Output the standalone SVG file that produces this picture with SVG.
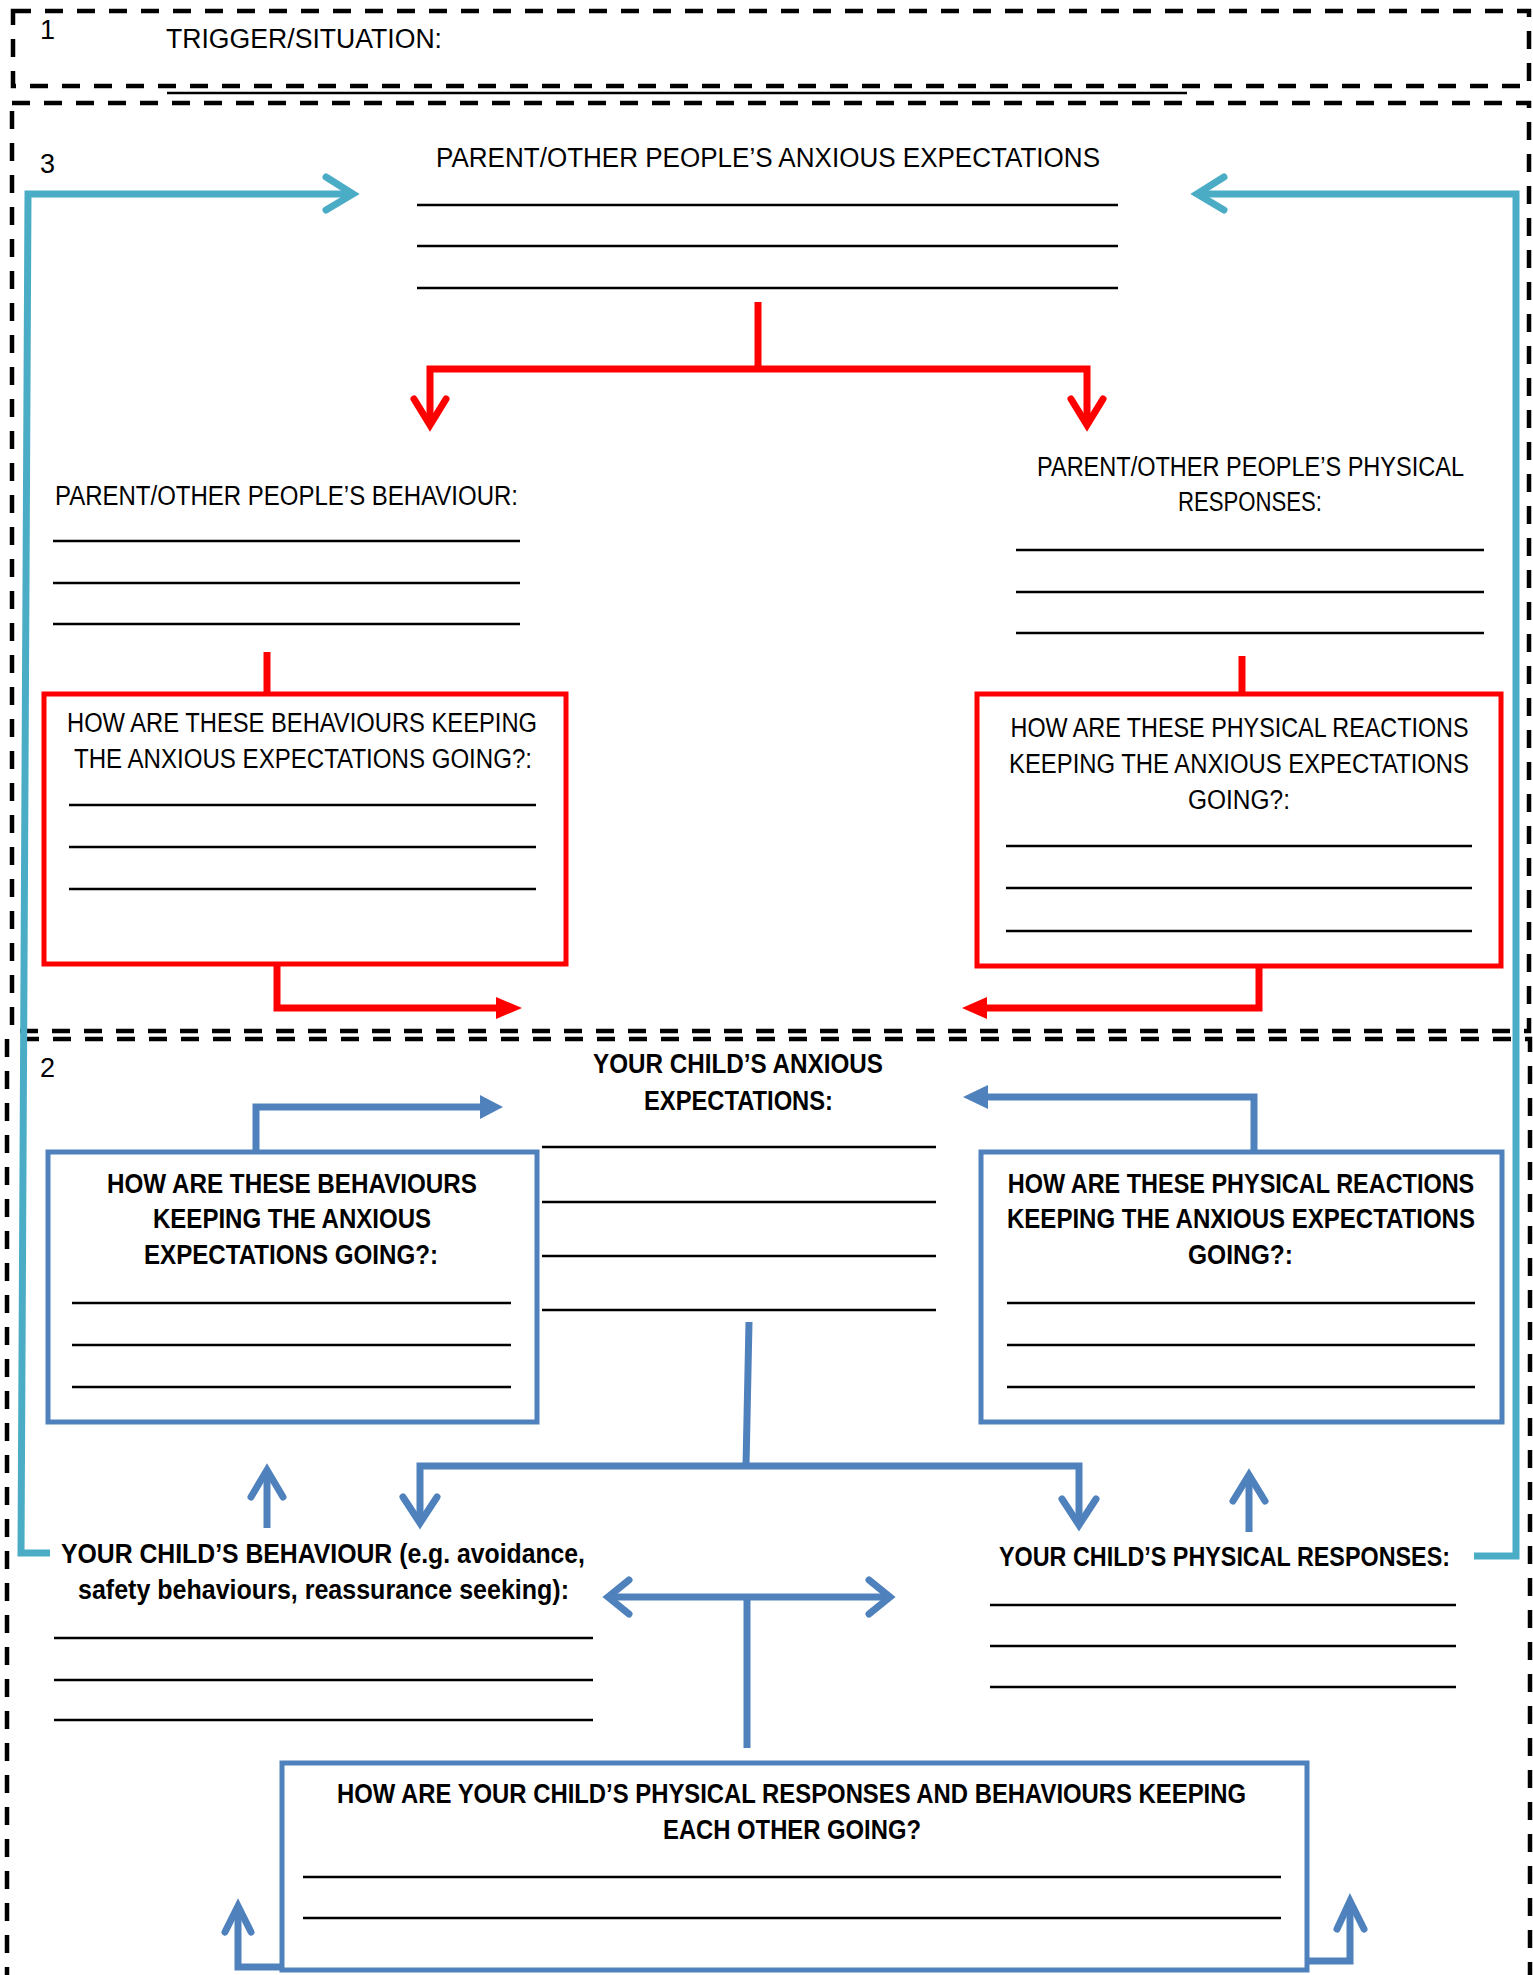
<svg xmlns="http://www.w3.org/2000/svg" width="1533" height="1975" viewBox="0 0 1533 1975">
<style>
.dash{fill:none;stroke:#000;stroke-width:4.5;stroke-dasharray:18 14}
.ul{stroke:#000;stroke-width:2.4;fill:none}
.t{font-family:"Liberation Sans",Arial,sans-serif;font-size:27px;fill:#000}
.m{text-anchor:middle}
.b{font-weight:bold}
.red{stroke:#FF0000;fill:none;stroke-width:7;stroke-linejoin:miter}
.redf{fill:#FF0000;stroke:none}
.blue{stroke:#4F81BD;fill:none;stroke-width:7;stroke-linejoin:miter}
.bluef{fill:#4F81BD;stroke:none}
.teal{stroke:#4BACC6;fill:none;stroke-width:7;stroke-linejoin:miter}
.chev{stroke-linecap:round;stroke-linejoin:miter}
.rbox{fill:none;stroke:#FF0000;stroke-width:5}
.bbox{fill:none;stroke:#4F81BD;stroke-width:5}
</style>
<rect width="1533" height="1975" fill="#fff"/>

<g id="section1">
<rect class="dash" x="13" y="11" width="1516" height="75"/>
<text class="t" x="40" y="39">1</text>
<text class="t" x="166" y="48" textLength="276" lengthAdjust="spacingAndGlyphs">TRIGGER/SITUATION:</text>
<line class="ul" x1="167" y1="93" x2="1187" y2="93"/>
</g>

<g id="section3">
<rect class="dash" x="12" y="103" width="1517" height="928"/>
<text class="t" x="40" y="173">3</text>
</g>

<g id="section2">
<path class="dash" d="M7 1985 V1039 H1530 V1985"/>
<text class="t" x="40" y="1077">2</text>
</g>

<g id="parent-expectations">
<text class="t m" x="768" y="167" textLength="664" lengthAdjust="spacingAndGlyphs">PARENT/OTHER PEOPLE’S ANXIOUS EXPECTATIONS</text>
<line class="ul" x1="417" y1="205" x2="1118" y2="205"/>
<line class="ul" x1="417" y1="246" x2="1118" y2="246"/>
<line class="ul" x1="417" y1="288" x2="1118" y2="288"/>
</g>

<g id="parent-behaviour">
<text class="t" x="55" y="505" textLength="463" lengthAdjust="spacingAndGlyphs">PARENT/OTHER PEOPLE’S BEHAVIOUR:</text>
<line class="ul" x1="53" y1="541" x2="520" y2="541"/>
<line class="ul" x1="53" y1="583" x2="520" y2="583"/>
<line class="ul" x1="53" y1="624" x2="520" y2="624"/>
</g>

<g id="parent-physical">
<text class="t m" x="1250.5" y="476" textLength="427" lengthAdjust="spacingAndGlyphs">PARENT/OTHER PEOPLE’S PHYSICAL</text>
<text class="t m" x="1250" y="511" textLength="144" lengthAdjust="spacingAndGlyphs">RESPONSES:</text>
<line class="ul" x1="1016" y1="550" x2="1484" y2="550"/>
<line class="ul" x1="1016" y1="592" x2="1484" y2="592"/>
<line class="ul" x1="1016" y1="633" x2="1484" y2="633"/>
</g>

<g id="parent-behaviour-box">
<rect class="rbox" x="44" y="694" width="522" height="270"/>
<text class="t m" x="302" y="732" textLength="470" lengthAdjust="spacingAndGlyphs">HOW ARE THESE BEHAVIOURS KEEPING</text>
<text class="t m" x="303" y="768" textLength="458" lengthAdjust="spacingAndGlyphs">THE ANXIOUS EXPECTATIONS GOING?:</text>
<line class="ul" x1="69" y1="805" x2="536" y2="805"/>
<line class="ul" x1="69" y1="847" x2="536" y2="847"/>
<line class="ul" x1="69" y1="889" x2="536" y2="889"/>
</g>

<g id="parent-physical-box">
<rect class="rbox" x="977" y="694" width="524" height="272"/>
<text class="t m" transform="translate(1239.5 737) scale(0.865 1)" x="0" y="0">HOW ARE THESE PHYSICAL REACTIONS</text>
<text class="t m" x="1239" y="773" textLength="460" lengthAdjust="spacingAndGlyphs">KEEPING THE ANXIOUS EXPECTATIONS</text>
<text class="t m" x="1239" y="809" textLength="102" lengthAdjust="spacingAndGlyphs">GOING?:</text>
<line class="ul" x1="1006" y1="846" x2="1472" y2="846"/>
<line class="ul" x1="1006" y1="888" x2="1472" y2="888"/>
<line class="ul" x1="1006" y1="931" x2="1472" y2="931"/>
</g>

<g id="child-expectations">
<text class="t b m" x="738" y="1073" textLength="290" lengthAdjust="spacingAndGlyphs">YOUR CHILD’S ANXIOUS</text>
<text class="t b m" x="738.5" y="1110" textLength="189" lengthAdjust="spacingAndGlyphs">EXPECTATIONS:</text>
<line class="ul" x1="542" y1="1147" x2="936" y2="1147"/>
<line class="ul" x1="542" y1="1202" x2="936" y2="1202"/>
<line class="ul" x1="542" y1="1256" x2="936" y2="1256"/>
<line class="ul" x1="542" y1="1310" x2="936" y2="1310"/>
</g>

<g id="child-behaviour-box">
<rect class="bbox" x="48" y="1152" width="489" height="270"/>
<text class="t b m" x="292" y="1193" textLength="370" lengthAdjust="spacingAndGlyphs">HOW ARE THESE BEHAVIOURS</text>
<text class="t b m" x="292" y="1228" textLength="278" lengthAdjust="spacingAndGlyphs">KEEPING THE ANXIOUS</text>
<text class="t b m" x="291" y="1264" textLength="294" lengthAdjust="spacingAndGlyphs">EXPECTATIONS GOING?:</text>
<line class="ul" x1="72" y1="1303" x2="511" y2="1303"/>
<line class="ul" x1="72" y1="1345" x2="511" y2="1345"/>
<line class="ul" x1="72" y1="1387" x2="511" y2="1387"/>
</g>

<g id="child-physical-box">
<rect class="bbox" x="981" y="1152" width="521" height="270"/>
<text class="t b m" transform="translate(1241 1193) scale(0.869 1)" x="0" y="0">HOW ARE THESE PHYSICAL REACTIONS</text>
<text class="t b m" x="1241" y="1228" textLength="468" lengthAdjust="spacingAndGlyphs">KEEPING THE ANXIOUS EXPECTATIONS</text>
<text class="t b m" x="1240.5" y="1264" textLength="105" lengthAdjust="spacingAndGlyphs">GOING?:</text>
<line class="ul" x1="1007" y1="1303" x2="1475" y2="1303"/>
<line class="ul" x1="1007" y1="1345" x2="1475" y2="1345"/>
<line class="ul" x1="1007" y1="1387" x2="1475" y2="1387"/>
</g>

<g id="child-behaviour">
<text class="t b m" x="323" y="1563" textLength="524" lengthAdjust="spacingAndGlyphs">YOUR CHILD’S BEHAVIOUR (e.g. avoidance,</text>
<text class="t b m" x="323.5" y="1599" textLength="491" lengthAdjust="spacingAndGlyphs">safety behaviours, reassurance seeking):</text>
<line class="ul" x1="54" y1="1638" x2="593" y2="1638"/>
<line class="ul" x1="54" y1="1680" x2="593" y2="1680"/>
<line class="ul" x1="54" y1="1720" x2="593" y2="1720"/>
</g>

<g id="child-physical">
<text class="t b m" x="1224.5" y="1566" textLength="451" lengthAdjust="spacingAndGlyphs">YOUR CHILD’S PHYSICAL RESPONSES:</text>
<line class="ul" x1="990" y1="1605" x2="1456" y2="1605"/>
<line class="ul" x1="990" y1="1646" x2="1456" y2="1646"/>
<line class="ul" x1="990" y1="1687" x2="1456" y2="1687"/>
</g>

<g id="child-both-box">
<rect class="bbox" x="282" y="1763" width="1025" height="207"/>
<text class="t b m" x="791.5" y="1803" textLength="909" lengthAdjust="spacingAndGlyphs">HOW ARE YOUR CHILD’S PHYSICAL RESPONSES AND BEHAVIOURS KEEPING</text>
<text class="t b m" x="792" y="1839" textLength="258" lengthAdjust="spacingAndGlyphs">EACH OTHER GOING?</text>
<line class="ul" x1="303" y1="1877" x2="1281" y2="1877"/>
<line class="ul" x1="303" y1="1918" x2="1281" y2="1918"/>
</g>

<g id="connectors">
<path class="teal" d="M50 1553 H21 L28 194 H352"/>
<polyline class="teal chev" points="326,177 353,194 326,210"/>
<path class="teal" d="M1474 1556 H1516 V194 H1198"/>
<polyline class="teal chev" points="1224,177 1197,194 1224,210"/>

<path class="red" d="M758 302 V369"/>
<path class="red" d="M430 425 V369 H1087 V425" stroke-width="7.5"/>
<polyline class="red chev" stroke-width="8" points="414,399 430,425 446,399"/>
<polyline class="red chev" stroke-width="8" points="1071,399 1087,425 1103,399"/>

<path class="red" d="M267 652 V694"/>
<path class="red" d="M1242 656 V694"/>

<path class="red" d="M277 964 V1008 H498"/>
<polygon class="redf" points="496,997 522,1008 496,1019"/>
<path class="red" d="M1259 966 V1008 H985"/>
<polygon class="redf" points="987,997 962,1008 987,1019"/>

<path class="blue" d="M256 1150 V1107 H482"/>
<polygon class="bluef" points="480,1095 503,1107 480,1119"/>
<path class="blue" d="M1254 1150 V1097 H986"/>
<polygon class="bluef" points="988,1085 963,1097 988,1109"/>

<path class="blue" d="M749 1322 L746 1466"/>
<path class="blue" d="M420 1523 V1466 H1079 V1525"/>
<polyline class="blue chev" points="403,1497 420,1523 437,1497"/>
<polyline class="blue chev" points="1062,1499 1079,1525 1096,1499"/>

<path class="blue" d="M267 1528 V1470"/>
<polyline class="blue chev" points="251,1497 267,1470 283,1497"/>
<path class="blue" d="M1249 1532 V1475"/>
<polyline class="blue chev" points="1233,1501 1249,1475 1265,1501"/>

<path class="blue" d="M608 1597 H890"/>
<polyline class="blue chev" points="629,1580 608,1597 629,1614"/>
<polyline class="blue chev" points="869,1580 890,1597 869,1614"/>
<path class="blue" d="M747 1597 V1748" stroke-width="6"/>

<path class="blue" d="M282 1967 H238 V1907" stroke-width="6"/>
<polyline class="blue chev" stroke-width="6" points="225,1932 238,1906 251,1932"/>
<path class="blue" d="M1307 1961 H1350 V1902" stroke-width="7"/>
<polyline class="blue chev" stroke-width="6" points="1337,1929 1350,1901 1364,1929"/>
</g>
</svg>
